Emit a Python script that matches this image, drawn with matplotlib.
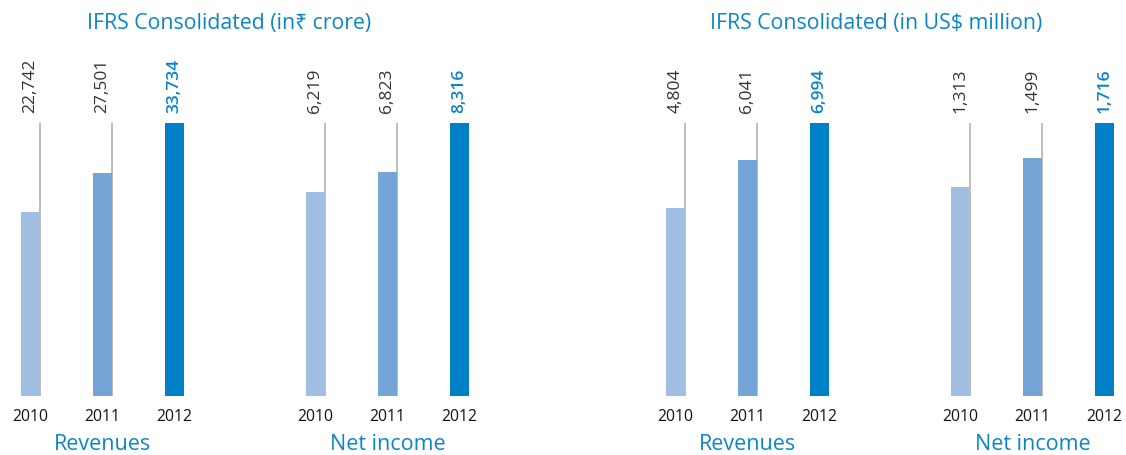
import matplotlib
matplotlib.use('Agg')
import matplotlib.pyplot as plt

years = ['2010', '2011', '2012']
inr_revenues = [22742, 27501, 33734]
inr_net_income = [6219, 6823, 8316]
usd_revenues = [4804, 6041, 6994]
usd_net_income = [1313, 1499, 1716]
group_names = ['Revenues', 'Net income', 'Revenues', 'Net income']
titles = ['IFRS Consolidated (in\u20b9 crore)', 'IFRS Consolidated (in US$ million)']

bar_colors = ['#a0bfe3', '#75a5d6', '#0080c6']
label_colors = ['#333333', '#333333', '#0a84c6']
label_weights = ['normal', 'normal', 'semibold']
blue_text = '#0a86c8'
FONT = ['Open Sans', 'Noto Sans', 'DejaVu Sans']
plt.rcParams['font.family'] = FONT

W, H = 1126, 455
fig = plt.figure(figsize=(W / 100, H / 100), dpi=100)
PT = 0.72  # points per pixel at dpi 100

group_series = [inr_revenues, inr_net_income, usd_revenues, usd_net_income]
group_first_center = [30.5, 315.5, 675.5, 960.5]
spacing = 72.0
pad = 0.3
bw = 19 / spacing

for vals, c0, name in zip(group_series, group_first_center, group_names):
    left = c0 - pad * spacing
    width = (2 + 2 * pad) * spacing
    ax = fig.add_axes([left / W, 59 / H, width / W, 273 / H])
    x = list(range(len(vals)))
    ax.bar(x, vals, width=bw, color=bar_colors, zorder=2)
    ymax = max(vals)
    ax.set_xlim(-pad, 2 + pad)
    ax.set_ylim(0, ymax)
    ax.axis('off')
    for xi, v, lc, lw_, yr in zip(x, vals, label_colors, label_weights, years):
        if v < ymax:
            ax.plot([xi + bw / 2, xi + bw / 2], [0, ymax],
                    color='#b3b3b3', lw=1.2, solid_capstyle='butt', zorder=1,
                    clip_on=False)
        ax.annotate(f'{v:,}', (xi, ymax), xytext=(0, 10 * PT), textcoords='offset points',
                    rotation=90, ha='center', va='bottom', fontsize=12.5,
                    color=lc, fontweight=lw_, annotation_clip=False)
        ax.annotate(yr, (xi, 0), xytext=(0, -21 * PT), textcoords='offset points',
                    ha='center', va='center', fontsize=11.3, color='#111111',
                    annotation_clip=False)
    ax.annotate(name, (1, 0), xytext=(0, -49 * PT), textcoords='offset points',
                ha='center', va='center', fontsize=15.5, color=blue_text,
                annotation_clip=False)

fig.text(229 / W, 1 - 24 / H, titles[0], ha='center', va='center', fontsize=15.3,
         color=blue_text)
fig.text(876 / W, 1 - 24 / H, titles[1], ha='center', va='center', fontsize=15.3,
         color=blue_text)

fig.savefig('out.png', dpi=100)
